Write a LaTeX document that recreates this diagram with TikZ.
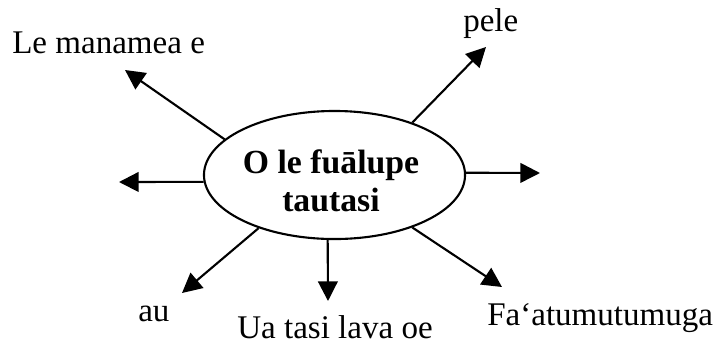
\documentclass[tikz,border=0pt]{standalone}
\usepackage{fontspec}
\setmainfont{Liberation Serif}
\usetikzlibrary{arrows.meta,shapes.geometric}
\tikzset{
  spoke/.style={-{Triangle[length=14pt,width=14pt]}, line width=1.5pt},
  word/.style={inner sep=0pt, anchor=base west, font=\fontsize{23.5}{27}\selectfont},
}
\begin{document}
\begin{tikzpicture}[x=0.025cm, y=-0.025cm]
  \useasboundingbox (0,0) rectangle (715,344);
  % Ellipse
  \node[ellipse, draw, line width=1.5pt, minimum width=6.525cm, minimum height=3.2cm, inner sep=0pt] (hub) at (334.5,175) {};
  \node[align=center, anchor=base, inner sep=0pt, font=\bfseries\fontsize{24}{27}\selectfont] (hubtext) at (331,211) {O le fuālupe\\tautasi};
  % Arrow ends
  \coordinate (tipUL) at (125,70);
  \coordinate (tipL) at (119,182);
  \coordinate (tipUR) at (486,47);
  \coordinate (tipR) at (540,173);
  \coordinate (tipBL) at (182,293);
  \coordinate (tipDN) at (328,301);
  \coordinate (tipBR) at (502,287);
  % Arrows
  \draw[spoke] (hub.162) -- (tipUL);
  \draw[spoke] (hub.183) -- (tipL);
  \draw[spoke] (hub.34) -- (tipUR);
  \draw[spoke] (hub.1) -- (tipR);
  \draw[spoke] (hub.215) -- (tipBL);
  \draw[spoke] (hub.264) -- (tipDN);
  \draw[spoke] (hub.326) -- (tipBR);
  % Labels
  \node[word] (lblUL) at (12,53) {Le manamea e};
  \node[word] (lblUR) at (463,31) {pele};
  \node[word] (lblBL) at (138,321) {au};
  \node[word] (lblDN) at (237,338) {Ua tasi lava oe};
  \node[word] (lblBR) at (487,325) {Fa‘atumutumuga};
\end{tikzpicture}
\end{document}
